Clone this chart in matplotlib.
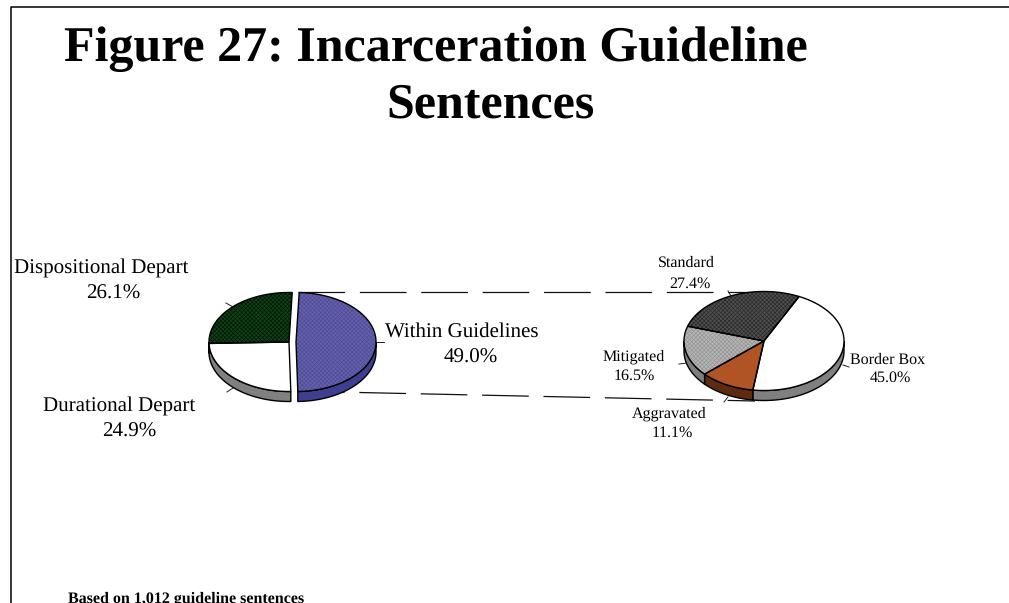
import numpy as np
import matplotlib
matplotlib.use('Agg')
import matplotlib.pyplot as plt
from matplotlib.patches import Polygon

title_lines = ['Figure 27: Incarceration Guideline', 'Sentences']
footer = 'Based on 1,012 guideline sentences'

left_names = ['Within Guidelines', 'Durational Depart', 'Dispositional Depart']
left_values = [49.0, 24.9, 26.1]
right_names = ['Border Box', 'Aggravated', 'Mitigated', 'Standard']
right_values = [45.0, 11.1, 16.5, 27.4]

plt.rcParams['font.family'] = ['Liberation Serif']
plt.rcParams['lines.scale_dashes'] = False
plt.rcParams['hatch.linewidth'] = 0.5
plt.rcParams['text.hinting'] = 'no_hinting'
plt.rcParams['text.hinting_factor'] = 1

RX, RY, DEPTH = 80, 49.5, 10


def ellipse(cx, cy, a1, a2, dy=0):
    t = np.radians(np.linspace(a1, a2, max(int(abs(a2 - a1)), 2) + 1))
    return np.column_stack([cx + RX * np.sin(t), cy - RY * np.cos(t) + dy])


def draw_wedge(ax, cx, cy, a1, a2, face, hatch_col, side):
    # side wall only on the front half of the pie
    s1, s2 = max(a1, 90), min(a2, 270)
    if s2 > s1:
        top = ellipse(cx, cy, s1, s2)
        low = ellipse(cx, cy, s1, s2, DEPTH)
        ax.add_patch(Polygon(np.vstack([top, low[::-1]]), closed=True, fc=side,
                             ec='black', lw=1, zorder=3))
    pts = np.vstack([[cx, cy], ellipse(cx, cy, a1, a2)])
    if hatch_col:
        ax.add_patch(Polygon(pts, closed=True, fc=face, ec=hatch_col, lw=0,
                             hatch='xxxxxxxx', zorder=4))
    else:
        ax.add_patch(Polygon(pts, closed=True, fc=face, ec='none', zorder=4))
    ax.add_patch(Polygon(pts, closed=True, fc='none', ec='black', lw=1, zorder=5))


def draw_pie(ax, cx, cy, values, start, styles):
    a = start
    for v, st in zip(values, styles):
        draw_wedge(ax, cx, cy, a, a + v * 3.6, *st)
        a += v * 3.6


def label(ax, x, y, s, size):
    ax.text(x, y + 1.5, s, fontsize=size, ha='center', va='center')


fig = plt.figure(figsize=(10.09, 6.03), dpi=100)
ax = fig.add_axes([0, 0, 1, 1])
ax.set_xlim(0, 1009)
ax.set_ylim(603, 0)
ax.axis('off')

# frame
ax.plot([1009, 11, 11], [7, 7, 603], color='black', lw=1.1, zorder=1)

# dashed connectors
for xs, ys in [([298, 764], [292, 292]), ([298, 755], [391.2, 401])]:
    ax.plot(xs, ys, color='#111111', lw=0.9, dashes=(33.6, 10.6),
            dash_capstyle='butt', zorder=2)

blue = ('#6660ad', '#4f4d96', '#3f3f8f')
white = ('white', None, '#808080')
green = ('#0f4516', '#051507', '#0a300e')
draw_pie(ax, 296, 342, left_values[:1], 2.3, [blue])
draw_pie(ax, 289, 342, left_values[1:], 2.3 + left_values[0] * 3.6, [white, green])
draw_pie(ax, 764, 341, right_values, 26, [
    white,
    ('#b05426', None, '#5e2a10'),
    ('#b8b8b8', '#939393', '#7d7d7d'),
    ('#505050', '#2a2a2a', '#333333'),
])

# leader ticks
for xs, ys in [([226, 233], [303, 307]), ([227, 233], [392, 388]),
               ([375, 384], [342, 342]), ([728, 731], [291, 296]),
               ([679, 687], [364, 363]), ([843, 849], [365, 367]),
               ([724, 728], [402, 397])]:
    ax.plot(xs, ys, color='#222222', lw=0.7, zorder=2)

ax.text(436, 49, title_lines[0], fontsize=35.8, fontweight='bold', ha='center', va='center')
ax.text(490, 105, title_lines[1], fontsize=35.8, fontweight='bold', ha='center', va='center')

big = 15.1
label(ax, 101.5, 267, left_names[2], big)
label(ax, 113, 292, '%.1f%%' % left_values[2], big)
label(ax, 119.5, 405, left_names[1], big)
label(ax, 129, 430, '%.1f%%' % left_values[1], big)
label(ax, 461.5, 330, left_names[0], big)
label(ax, 470.5, 356, '%.1f%%' % left_values[0], big)

small = 11.7
label(ax, 686, 261, right_names[3], small)
label(ax, 690, 282, '%.1f%%' % right_values[3], small)
label(ax, 633.5, 355, right_names[2], small)
label(ax, 634, 374, '%.1f%%' % right_values[2], small)
label(ax, 887.5, 358, right_names[0], small)
label(ax, 890, 376, '%.1f%%' % right_values[0], small)
label(ax, 669, 412, right_names[1], small)
label(ax, 672, 431, '%.1f%%' % right_values[1], small)

# sits on the bottom edge, clipped the same way as the source picture
ax.text(68, 602, footer, fontsize=11.7, fontweight='bold', ha='left', va='baseline')

fig.savefig('out.png', dpi=100)
plt.close(fig)
